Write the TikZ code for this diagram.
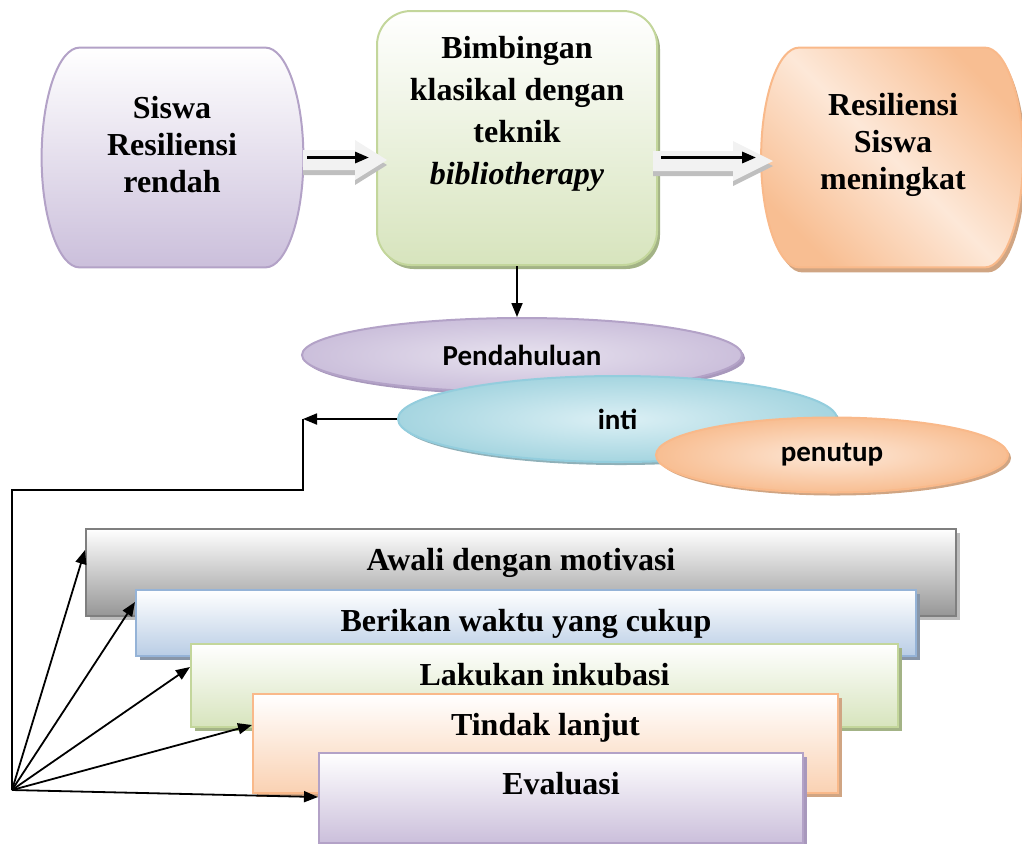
\documentclass[tikz,border=0pt]{standalone}
\usepackage{fontspec}
\setmainfont{Liberation Serif}
\newfontfamily\phasefont{Carlito}
\usetikzlibrary{shapes.geometric,shadows,arrows.meta}

\definecolor{purpleline}{HTML}{B3A2C7}
\definecolor{purplefill}{HTML}{CBBFDB}
\definecolor{purpleshade}{HTML}{A898BC}
\definecolor{greenline}{HTML}{C3D69B}
\definecolor{greenfill}{HTML}{D7E4BD}
\definecolor{greenshade}{HTML}{A3B386}
\definecolor{orangeline}{HTML}{F9B98A}
\definecolor{orangefill}{HTML}{F8BE92}
\definecolor{orangelight}{HTML}{FDE8D8}
\definecolor{orangeshade}{HTML}{D0A583}
\definecolor{blueline}{HTML}{95B3D7}
\definecolor{bluefill}{HTML}{B9CDE5}
\definecolor{blueshade}{HTML}{8896A8}
\definecolor{cyanline}{HTML}{93CDDD}
\definecolor{cyanlight}{HTML}{DCF0F5}
\definecolor{cyanfill}{HTML}{A5D5E0}
\definecolor{cyanshade}{HTML}{8FB0B8}
\definecolor{grayline}{HTML}{7F7F7F}
\definecolor{grayfill}{HTML}{969696}
\definecolor{grayshade}{HTML}{BDBDBD}
\definecolor{arrowfill}{HTML}{F2F2F2}
\definecolor{arrowshade}{HTML}{BFBFBF}

% outline with bulging sides round a node
\newcommand{\bulgebox}[2]{%
  \path[#2] ([xshift=19pt]#1.north west) -- ([xshift=-19pt]#1.north east)
    .. controls ([xshift=-8.5pt]#1.north east) and ([yshift=30pt]#1.east) .. (#1.east)
    .. controls ([yshift=-30pt]#1.east) and ([xshift=-8.5pt]#1.south east) .. ([xshift=-19pt]#1.south east)
    -- ([xshift=19pt]#1.south west)
    .. controls ([xshift=8.5pt]#1.south west) and ([yshift=-30pt]#1.west) .. (#1.west)
    .. controls ([yshift=30pt]#1.west) and ([xshift=8.5pt]#1.north west) .. ([xshift=19pt]#1.north west) -- cycle;}

\begin{document}
\begin{tikzpicture}[x=0.5pt, y=-0.5pt,
                    >={Triangle[length=7pt,width=5.5pt]},
                    sidenode/.style={rectangle, minimum width=130.5pt, minimum height=109.5pt, inner sep=0pt},
                    mainnode/.style={rectangle, rounded corners=17pt, draw=greenline, line width=1pt, top color=white, bottom color=greenfill, minimum width=140pt, minimum height=127pt, inner sep=0pt, drop shadow={shadow xshift=1.5pt, shadow yshift=-2pt, fill=greenshade, opacity=1}},
                    boxtext/.style={align=center, inner sep=0pt, font=\bfseries\fontsize{16}{18.5}\selectfont},
                    phasenode/.style n args={4}{ellipse, draw=#1, inner color=#2, outer color=#3, line width=1pt, inner sep=0pt, font=\phasefont\bfseries\fontsize{14.5}{17}\selectfont, drop shadow={shadow xshift=1.5pt, shadow yshift=-1.5pt, fill=#4, opacity=1}},
                    stepnode/.style n args={3}{rectangle, anchor=north west, draw=#1, top color=white, bottom color=#2, line width=1pt, inner sep=0pt, text height=20.5pt, font=\bfseries\fontsize{16}{18.5}\selectfont, drop shadow={shadow xshift=2pt, shadow yshift=-2pt, fill=#3, opacity=1}},
                    blockarrow/.style={fill=arrowfill, drop shadow={shadow xshift=0pt, shadow yshift=-2.5pt, fill=arrowshade, opacity=1}},
                ]
                    \useasboundingbox (0,0) rectangle (1022,843);

                    %Nodes
                    \node[sidenode](siswa) at (172.5,157.5) {};
                    \bulgebox{siswa}{draw=purpleline, line width=1pt, top color=white, bottom color=purplefill}
                    \node[boxtext](siswatext) at (172,145) {Siswa\\Resiliensi\\rendah};
                    \node[mainnode](bimbingan) at (517,138) {};
                    \node[boxtext, font=\bfseries\fontsize{16}{21}\selectfont](bimbtext) at (517,114) {Bimbingan\\klasikal dengan\\teknik\\\textit{bibliotherapy}};
                    \node[sidenode](hasil) at (892,157.5) {};
                    \bulgebox{hasil}{draw=orangeline, line width=1pt, left color=orangefill, right color=orangefill, middle color=orangelight, shading angle=135, drop shadow={shadow xshift=1.5pt, shadow yshift=-2.5pt, fill=orangeshade, opacity=1}}
                    \node[boxtext](hasiltext) at (893,145) {Resiliensi\\Siswa\\meningkat};

                    \node[phasenode={purpleline}{purplefill!45}{purplefill}{purpleshade}, minimum width=220pt, minimum height=37pt](pendahuluan) at (522,355) {Pendahuluan};
                    \node[phasenode={cyanline}{cyanlight}{cyanfill}{cyanshade}, minimum width=219.5pt, minimum height=43pt](inti) at (617.5,419) {inti};
                    \node[phasenode={orangeline}{orangelight}{orangefill}{orangeshade}, minimum width=176pt, minimum height=37.5pt](penutup) at (832,455) {penutup};

                    \node[stepnode={grayline}{grayfill}{grayshade}, minimum width=435pt, text depth=23pt](awali) at (85,528) {Awali dengan motivasi};
                    \node[stepnode={blueline}{bluefill}{blueshade}, minimum width=390pt, text depth=12.5pt](berikan) at (135,589) {Berikan waktu yang cukup};
                    \node[stepnode={greenline}{greenfill}{greenshade}, minimum width=353.5pt, text depth=21pt](inkubasi) at (190,643) {Lakukan inkubasi};
                    \node[stepnode={orangeline}{orangefill!70}{orangeshade}, minimum width=292.5pt, text depth=29pt](tindak) at (252,693) {Tindak lanjut};
                    \node[stepnode={purpleline}{purplefill}{purpleshade}, minimum width=242pt, text depth=24.5pt](evaluasi) at (318,752) {Evaluasi};

                    \coordinate (corner) at (303,419);
                    \coordinate (turn) at (12,490);
                    \coordinate (fan) at (12,790);

                    %Lines
                    \path[blockarrow] (303,150) -- (355,150) -- (355,140) -- (387,160) -- (355,180) -- (355,170) -- (303,170) -- cycle;
                    \path[blockarrow] (653,151) -- (733,151) -- (733,141) -- (773,161) -- (733,181) -- (733,171) -- (653,171) -- cycle;
                    \draw[line width=1.5pt, ->, shorten <=2pt, shorten >=3.5pt](siswa.east) -- (siswa.east -| bimbingan.west);
                    \draw[line width=1.5pt, ->, shorten <=1.5pt, shorten >=2.5pt](hasil.west -| bimbingan.east) -- (hasil.west);
                    \draw[line width=0.9pt, ->](bimbingan.south) -- (bimbingan.south |- pendahuluan.north);
                    \draw[line width=0.9pt, ->](inti.west) -- (corner);
                    \draw[line width=0.9pt](corner) |- (turn) -- (fan);
                    \draw[line width=0.9pt, ->](fan) -- ([yshift=-11pt]awali.north west);
                    \draw[line width=0.9pt, ->](fan) -- ([yshift=-6.5pt]berikan.north west);
                    \draw[line width=0.9pt, ->](fan) -- ([yshift=-12pt]inkubasi.north west);
                    \draw[line width=0.9pt, ->](fan) -- ([yshift=-16pt]tindak.north west);
                    \draw[line width=0.9pt, ->](fan) -- ([yshift=-22.5pt]evaluasi.north west);
                \end{tikzpicture}
\end{document}
